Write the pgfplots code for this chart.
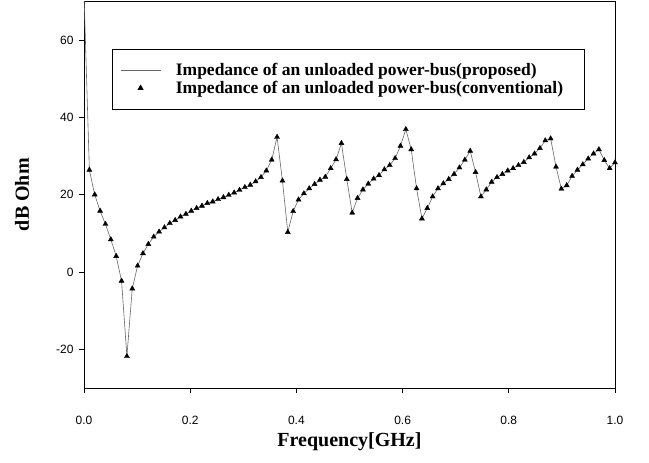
\documentclass[border=0pt]{standalone}
\usepackage{fontspec}
\setmainfont{Liberation Serif}
\newfontfamily\tickfont{Liberation Sans}
\usepackage{pgfplots}
\usepackage{pgfplotstable}
\pgfplotsset{compat=1.18}

\pgfplotstableread{
f v
0.0000 72.0
0.0101 26.4
0.0202 20.0
0.0303 15.8
0.0404 12.4
0.0505 8.4
0.0606 4.1
0.0707 -2.3
0.0808 -21.8
0.0909 -4.3
0.1010 1.6
0.1111 4.8
0.1212 7.2
0.1313 9.1
0.1414 10.4
0.1515 11.5
0.1616 12.6
0.1717 13.4
0.1818 14.3
0.1919 15.0
0.2020 15.8
0.2121 16.5
0.2222 17.1
0.2323 17.8
0.2424 18.2
0.2525 18.8
0.2626 19.3
0.2727 19.9
0.2828 20.5
0.2929 21.2
0.3030 21.9
0.3131 22.5
0.3232 23.4
0.3333 24.5
0.3434 26.2
0.3535 29.0
0.3636 34.9
0.3737 23.6
0.3838 10.3
0.3939 15.7
0.4040 18.7
0.4141 20.3
0.4242 21.6
0.4343 22.7
0.4444 23.8
0.4545 24.6
0.4646 26.8
0.4747 29.1
0.4848 33.3
0.4949 24.0
0.5051 15.3
0.5152 19.1
0.5253 21.3
0.5354 22.8
0.5455 24.1
0.5556 25.0
0.5657 26.5
0.5758 27.6
0.5859 29.4
0.5960 32.6
0.6061 36.9
0.6162 31.7
0.6263 21.6
0.6364 13.8
0.6465 16.5
0.6566 19.5
0.6667 21.6
0.6768 22.9
0.6869 24.0
0.6970 25.3
0.7071 27.0
0.7172 29.0
0.7273 31.3
0.7374 25.8
0.7475 19.5
0.7576 21.3
0.7677 23.3
0.7778 24.5
0.7879 25.3
0.7980 26.2
0.8081 26.8
0.8182 27.6
0.8283 28.4
0.8384 29.6
0.8485 30.6
0.8586 32.0
0.8687 34.0
0.8788 34.5
0.8889 27.2
0.8990 21.5
0.9091 22.4
0.9192 24.8
0.9293 26.4
0.9394 27.8
0.9495 29.3
0.9596 30.6
0.9697 31.7
0.9798 28.9
0.9899 26.8
1.0000 28.3
}\impdata

\begin{document}
\begin{tikzpicture}
\path[use as bounding box] (-84pt,-75pt) rectangle (565pt,388pt);
\begin{axis}[
  at={(0pt,0pt)}, anchor=south west,
  scale only axis, width=531pt, height=386.7pt,
  xmin=0, xmax=1, ymin=-30, ymax=70,
  xtick={0,0.2,0.4,0.6,0.8,1}, xticklabels={0.0,0.2,0.4,0.6,0.8,1.0},
  ytick={-20,0,20,40,60}, yticklabels={-20,0,20,40,60},
  tick align=outside, major tick length=5pt,
  tick pos=left,
  axis line style={line width=0.7pt},
  tick style={line width=0.7pt, black},
  ticklabel style={font=\tickfont\fontsize{12}{14}\selectfont},
  xticklabel style={yshift=-20pt},
  yticklabel style={xshift=-2pt},
  xlabel={Frequency[GHz]}, ylabel={dB Ohm},
  every axis x label/.style={at={(axis description cs:0.5,0)}, yshift=-54pt, anchor=center, font=\bfseries\fontsize{20}{24}\selectfont},
  every axis y label/.style={at={(axis description cs:0,0.5)}, xshift=-62pt, rotate=90, anchor=center, font=\bfseries\fontsize{20}{24}\selectfont},
  legend style={at={(axis description cs:0.0527,0.8767)}, anchor=north west, draw=black, line width=0.6pt,
    font=\bfseries\fontsize{17.5}{21}\selectfont, inner xsep=8pt, inner ysep=12pt, column sep=13pt,
    nodes={inner sep=2pt}},
  legend cell align=left,
  legend image code/.code={\draw[mark repeat=2,mark phase=2,#1] plot coordinates {(0pt,0pt)(20pt,0pt)(40pt,0pt)};},
]
\addplot[black!60, line width=0.6pt] table[x=f, y=v] {\impdata};
\addlegendentry{\makebox[398pt][l]{Impedance of an unloaded power-bus(proposed)}}
\addplot[only marks, mark=triangle*, mark size=2.9pt, black, mark options={fill=black}] table[x=f, y=v, skip coords between index={0}{1}] {\impdata};
\addlegendentry{\makebox[398pt][l]{Impedance of an unloaded power-bus(conventional)}}
\end{axis}
\end{tikzpicture}
\end{document}
